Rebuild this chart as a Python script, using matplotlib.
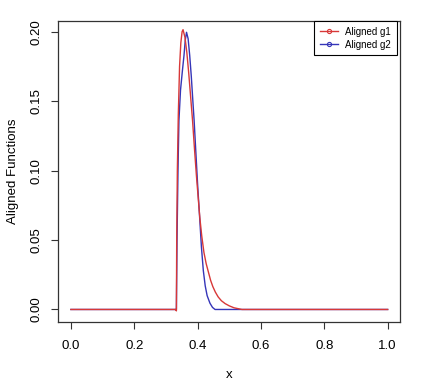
import numpy as np
import matplotlib.pyplot as plt

plt.rcParams['font.family'] = ['Liberation Sans', 'DejaVu Sans']

# Aligned g1 (red)
g1_x = [0.0, 0.330, 0.333, 0.334, 0.336, 0.339, 0.343, 0.347, 0.351, 0.354, 0.360,
        0.366, 0.372, 0.378, 0.384, 0.390, 0.396, 0.402, 0.407, 0.413, 0.420,
        0.427, 0.434, 0.441, 0.448, 0.456, 0.465, 0.475, 0.487, 0.500, 0.515, 0.540, 1.0]
g1_y = [0.0, 0.0, -0.001, 0.05, 0.10, 0.14, 0.175, 0.192, 0.200, 0.2015, 0.196,
        0.185, 0.170, 0.153, 0.136, 0.116, 0.097, 0.080, 0.066, 0.053, 0.041,
        0.033, 0.027, 0.021, 0.0165, 0.0125, 0.009, 0.0063, 0.0042, 0.0026, 0.0012, 0.0, 0.0]

# Aligned g2 (blue)
g2_x = [0.0, 0.331, 0.333, 0.335, 0.338, 0.341, 0.346, 0.352, 0.357, 0.361, 0.365,
        0.370, 0.375, 0.380, 0.385, 0.389, 0.394, 0.400, 0.407, 0.412, 0.418,
        0.424, 0.430, 0.439, 0.447, 0.455, 1.0]
g2_y = [0.0, 0.0, 0.0, 0.05, 0.10, 0.136, 0.158, 0.172, 0.183, 0.194, 0.1996,
        0.195, 0.183, 0.168, 0.150, 0.136, 0.115, 0.090, 0.064, 0.045, 0.028,
        0.017, 0.010, 0.0045, 0.0015, 0.0, 0.0]

x_ticks = [0.0, 0.2, 0.4, 0.6, 0.8, 1.0]
y_ticks = [0.00, 0.05, 0.10, 0.15, 0.20]

fig = plt.figure(figsize=(4.3, 3.92), dpi=100)
ax = fig.add_axes([0.134, 0.179, 0.797, 0.768])

ax.plot(g2_x, g2_y, color='#3535b8', lw=1.0, label='Aligned g2')
ax.plot(g1_x, g1_y, color='#d83838', lw=1.0, label='Aligned g1')

ax.set_xlim(-0.042, 1.04)
ax.set_ylim(-0.0089, 0.2079)
ax.set_xticks(x_ticks)
ax.set_xticklabels([f'{v:.1f}' for v in x_ticks])
ax.set_yticks(y_ticks)
ax.set_yticklabels([f'{v:.2f}' for v in y_ticks], rotation=90, va='center')
ax.tick_params(direction='out', length=5, width=0.8, labelsize=9.5, color='#333333')
ax.tick_params(axis='x', pad=8)
ax.tick_params(axis='y', pad=6)
for s in ax.spines.values():
    s.set_color('#333333')
    s.set_linewidth(0.9)

ax.set_xlabel('x', fontsize=9.5, labelpad=12)
ax.set_ylabel('Aligned Functions', fontsize=9.5, labelpad=8)

h1 = plt.Line2D([], [], color='#d83838', lw=1.0, marker='o', ms=3, mfc='none', mew=0.8)
h2 = plt.Line2D([], [], color='#3535b8', lw=1.0, marker='o', ms=3, mfc='none', mew=0.8)
leg = ax.legend([h1, h2], ['Aligned g1', 'Aligned g2'], loc='upper right',
                bbox_to_anchor=(0.99, 1.0), borderaxespad=0, fontsize=7,
                fancybox=False, framealpha=1, edgecolor='black',
                handlelength=1.8, borderpad=0.6, labelspacing=0.3)
leg.get_frame().set_linewidth(0.8)

fig.savefig('out.png', dpi=100)
